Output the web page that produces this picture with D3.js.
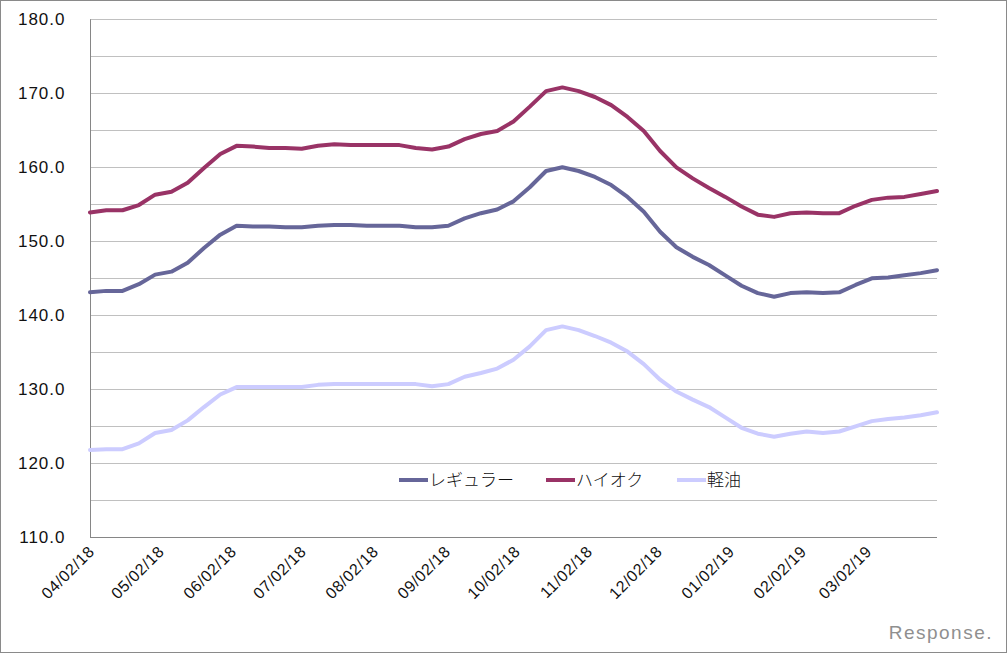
<!DOCTYPE html>
<html>
<head>
<meta charset="utf-8">
<script src="https://cdn.jsdelivr.net/npm/d3@7"></script>
<style>
  html, body { margin: 0; padding: 0; background: #fff; }
  svg { display: block; }
</style>
</head>
<body>
<svg id="chart" width="1007" height="653"></svg>
<script>
// ---- data ----
const startDate = "2018-04-02";
const endDate = "2019-04-01";
const seriesNames = ["レギュラー", "ハイオク", "軽油"];
const regular = [143.1,143.3,143.3,144.2,145.5,145.9,147.1,149.1,150.9,152.1,
  152.0,152.0,151.9,151.9,152.1,152.2,152.2,152.1,152.1,152.1,
  151.9,151.9,152.1,153.1,153.8,154.3,155.4,157.3,159.5,160.0,
  159.5,158.7,157.6,156.0,154.0,151.3,149.2,147.9,146.8,145.4,
  144.0,143.0,142.5,143.0,143.1,143.0,143.1,144.1,145.0,145.1,
  145.4,145.7,146.1];
const highOctane = [153.9,154.2,154.2,154.9,156.3,156.7,157.9,159.9,161.8,162.9,
  162.8,162.6,162.6,162.5,162.9,163.1,163.0,163.0,163.0,163.0,
  162.6,162.4,162.8,163.8,164.5,164.9,166.2,168.2,170.3,170.8,
  170.3,169.5,168.4,166.8,164.9,162.2,160.0,158.5,157.2,156.0,
  154.7,153.6,153.3,153.8,153.9,153.8,153.8,154.8,155.6,155.9,
  156.0,156.4,156.8];
const diesel = [121.8,121.9,121.9,122.7,124.1,124.5,125.8,127.6,129.3,130.3,
  130.3,130.3,130.3,130.3,130.6,130.7,130.7,130.7,130.7,130.7,
  130.7,130.4,130.7,131.7,132.2,132.8,134.0,135.8,138.0,138.5,
  138.0,137.2,136.3,135.1,133.4,131.3,129.7,128.6,127.6,126.2,
  124.8,124.0,123.6,124.0,124.3,124.1,124.3,125.0,125.7,126.0,
  126.2,126.5,126.9];
const xTickLabels = ["04/02/18","05/02/18","06/02/18","07/02/18","08/02/18","09/02/18",
  "10/02/18","11/02/18","12/02/18","01/02/19","02/02/19","03/02/19"];
const yTicks = [110,120,130,140,150,160,170,180];
const yGrid = [110,115,120,125,130,135,140,145,150,155,160,165,170,175,180];
const colors = ["#666699", "#993366", "#CCCCFF"];

// ---- setup ----
const svg = d3.select("#chart");
const W = 1007, H = 653;
const mLeft = 90, mRight = 937, mTop = 19.3, mBottom = 537.3;

const parseISO = d3.utcParse("%Y-%m-%d");
const parseTick = d3.utcParse("%m/%d/%y");
const weeks = d3.utcDay.range(parseISO(startDate), d3.utcDay.offset(parseISO(endDate), 1), 7);

const x = d3.scaleUtc().domain([parseISO(startDate), parseISO(endDate)]).range([mLeft, mRight]);
const y = d3.scaleLinear().domain([110, 180]).range([mBottom, mTop]);

// background + outer border
svg.append("rect").attr("x", 0.5).attr("y", 0.5).attr("width", W - 1).attr("height", H - 1)
  .attr("fill", "#fff").attr("stroke", "#8a8a8a").attr("stroke-width", 1);

// gridlines
svg.append("g").selectAll("line").data(yGrid).join("line")
  .attr("x1", mLeft).attr("x2", mRight)
  .attr("y1", d => Math.round(y(d)) + 0.5).attr("y2", d => Math.round(y(d)) + 0.5)
  .attr("stroke", "#c0c0c0").attr("stroke-width", 1);

// y axis
const yAxis = d3.axisLeft(y).tickValues(yTicks).tickSize(0).tickPadding(25)
  .tickFormat(d3.format(".1f"));
const gy = svg.append("g").attr("transform", `translate(${mLeft + 0.5},0)`).call(yAxis);
gy.select(".domain").attr("stroke", "#868686").attr("d", `M0,${mTop}V${mBottom}`);
gy.selectAll("text").attr("font-family", "'Liberation Sans', Arial, sans-serif")
  .attr("font-size", 17).attr("letter-spacing", "1px").attr("fill", "#111");

// x axis
const xTickDates = xTickLabels.map(parseTick);
const xAxis = d3.axisBottom(x).tickValues(xTickDates).tickSize(0)
  .tickFormat((d, i) => xTickLabels[i]);
const gx = svg.append("g").attr("transform", `translate(0,${Math.round(mBottom) + 0.5})`).call(xAxis);
gx.select(".domain").attr("stroke", "#868686").attr("d", `M${mLeft},0H${mRight}`);
gx.selectAll("text")
  .attr("font-family", "'Liberation Sans', Arial, sans-serif")
  .attr("font-size", 16).attr("letter-spacing", "0.6px").attr("fill", "#111")
  .attr("text-anchor", "end").attr("dy", null).attr("y", null)
  .attr("transform", "translate(5,15) rotate(-45)");

// lines
const seriesData = [regular, highOctane, diesel];
const line = d3.line().x((d, i) => x(weeks[i])).y(d => y(d));
svg.append("g").selectAll("path").data(seriesData).join("path")
  .attr("d", line)
  .attr("fill", "none")
  .attr("stroke", (d, i) => colors[i])
  .attr("stroke-width", 4)
  .attr("stroke-linejoin", "round")
  .attr("stroke-linecap", "round");

// legend
const legendX = [399, 546, 677];
const legendY = 480;
const lg = svg.append("g").selectAll("g").data(seriesNames).join("g")
  .attr("transform", (d, i) => `translate(${legendX[i]},${legendY})`);
lg.append("line").attr("x1", 0).attr("x2", 29).attr("y1", 0).attr("y2", 0)
  .attr("stroke", (d, i) => colors[i]).attr("stroke-width", 4);
lg.append("text").attr("x", 30).attr("y", 0).attr("dy", "0.36em")
  .attr("font-family", "'Noto Sans CJK JP', sans-serif").attr("font-size", 17)
  .attr("font-weight", 300)
  .attr("fill", "#111").text(d => d);

// watermark
svg.append("text").attr("x", 993).attr("y", 639).attr("text-anchor", "end")
  .attr("font-family", "'Liberation Sans', Arial, sans-serif").attr("font-size", 19)
  .attr("letter-spacing", "1.5px").attr("fill", "#8f8f8f").text("Response.");
</script>
</body>
</html>
